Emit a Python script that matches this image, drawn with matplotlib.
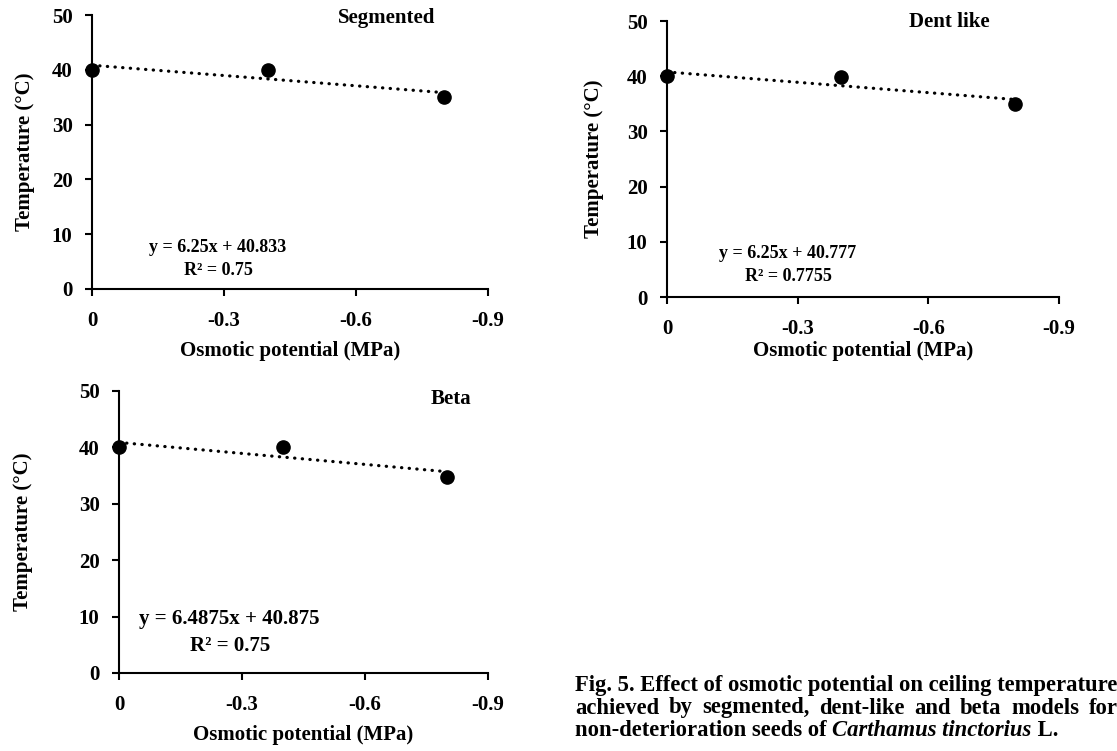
import matplotlib.pyplot as plt

plt.rcParams['font.family'] = ['Liberation Serif', 'DejaVu Serif']
plt.rcParams['font.weight'] = 'bold'

# Datos
osmotic = [0, -0.4, -0.8]
temp_segmented = [40, 40, 35]
temp_dent = [40, 39.8, 35]
temp_beta = [40, 40, 34.8]

titles = ["Segmented", "Dent like", "Beta"]
slopes = [6.25, 6.25, 6.4875]
intercepts = [40.833, 40.777, 40.875]
r2_values = ["0.75", "0.7755", "0.75"]
eq_texts = ["y = 6.25x + 40.833", "y = 6.25x + 40.777", "y = 6.4875x + 40.875"]

xticks = [0, -0.3, -0.6, -0.9]
xtick_labels = ["0", "-0.3", "-0.6", "-0.9"]
yticks = [0, 10, 20, 30, 40, 50]

fig = plt.figure(figsize=(11.17, 7.51), dpi=100)

# posiciones de cada panel [left, bottom, width, height]
positions = [
    [0.0824, 0.6152, 0.3545, 0.3648],
    [0.5971, 0.6045, 0.3510, 0.3675],
    [0.1065, 0.1039, 0.3303, 0.3755],
]
title_pos = [(0.745, 0.99), (0.72, 0.995), (0.90, 0.97)]
# (x, y de R2, separacion hasta la ecuacion)
eq_pos = [(0.318, 0.066, 0.084), (0.309, 0.076, 0.083), (0.30, 0.096, 0.094)]
eq_size = [13, 13, 15]
label_pad_x = [7, 1, 7]
label_pad_y = [12, 16, 33]

series = [temp_segmented, temp_dent, temp_beta]

for i in range(3):
    ax = fig.add_axes(positions[i])
    ax.plot(osmotic, series[i], "o", color="black", markersize=9.5, clip_on=False, zorder=3)
    # linea de tendencia
    x_fit = [osmotic[0], osmotic[-1]]
    y_fit = [slopes[i] * x + intercepts[i] for x in x_fit]
    ax.plot(x_fit, y_fit, linestyle=(0, (0.1, 2.3)), color="black", linewidth=2.3,
            dash_capstyle="round", clip_on=False)
    ax.set_xlim(0, -0.9)
    ax.set_ylim(0, 50)
    ax.set_xticks(xticks)
    ax.set_xticklabels(xtick_labels)
    ax.set_yticks(yticks)
    ax.spines["top"].set_visible(False)
    ax.spines["right"].set_visible(False)
    ax.spines["left"].set_linewidth(1.5)
    ax.spines["bottom"].set_linewidth(1.5)
    ax.tick_params(axis="both", direction="out", length=5, width=1.5, labelsize=15)
    ax.tick_params(axis="x", pad=11)
    ax.tick_params(axis="y", pad=9)
    ax.set_ylabel("Temperature (°C)", fontsize=15, fontweight="bold", labelpad=label_pad_y[i])
    ax.set_xlabel("Osmotic potential (MPa)", fontsize=15, fontweight="bold",
                  labelpad=label_pad_x[i])
    ax.text(title_pos[i][0], title_pos[i][1], titles[i], transform=ax.transAxes,
            ha="center", va="center", fontsize=15, fontweight="bold")
    ex, ey, gap = eq_pos[i]
    ax.text(ex, ey + gap, eq_texts[i], transform=ax.transAxes,
            ha="center", va="center", fontsize=eq_size[i], fontweight="bold")
    ax.text(ex, ey, "R² = " + r2_values[i], transform=ax.transAxes,
            ha="center", va="center", fontsize=eq_size[i], fontweight="bold")

# Pie de figura
cap_x = 575 / 1117
cap_size = 16.3
W = fig.bbox.width
renderer = fig.canvas.get_renderer()

t_line1 = fig.text(cap_x, 1 - 685 / 751, "Fig. 5. Effect of osmotic potential on ceiling temperature",
                   fontsize=cap_size, fontweight="bold", va="center", ha="left")
right_edge = t_line1.get_window_extent(renderer).x1

# segunda linea justificada (como en el original)
words = ["achieved", "by", "segmented,", "dent-like", "and", "beta", "models", "for"]
widths = []
for w in words:
    tmp = fig.text(0, 0, w, fontsize=cap_size, fontweight="bold")
    widths.append(tmp.get_window_extent(renderer).width)
    tmp.remove()
space = (right_edge - cap_x * W - sum(widths)) / (len(words) - 1)
xpos = cap_x * W
for w, wd in zip(words, widths):
    fig.text(xpos / W, 1 - 708 / 751, w, fontsize=cap_size, fontweight="bold",
             va="center", ha="left")
    xpos += wd + space

# ultima linea con nombre cientifico en cursiva
t1 = fig.text(cap_x, 1 - 731 / 751, "non-deterioration seeds of ",
              fontsize=cap_size, fontweight="bold", va="center", ha="left")
bb = t1.get_window_extent(renderer)
t2 = fig.text(bb.x1 / W, 1 - 731 / 751, "Carthamus tinctorius",
              fontsize=cap_size, fontweight="bold", style="italic", va="center", ha="left")
bb2 = t2.get_window_extent(renderer)
fig.text(bb2.x1 / W, 1 - 731 / 751, " L.",
         fontsize=cap_size, fontweight="bold", va="center", ha="left")

plt.savefig("out.png", dpi=100)
